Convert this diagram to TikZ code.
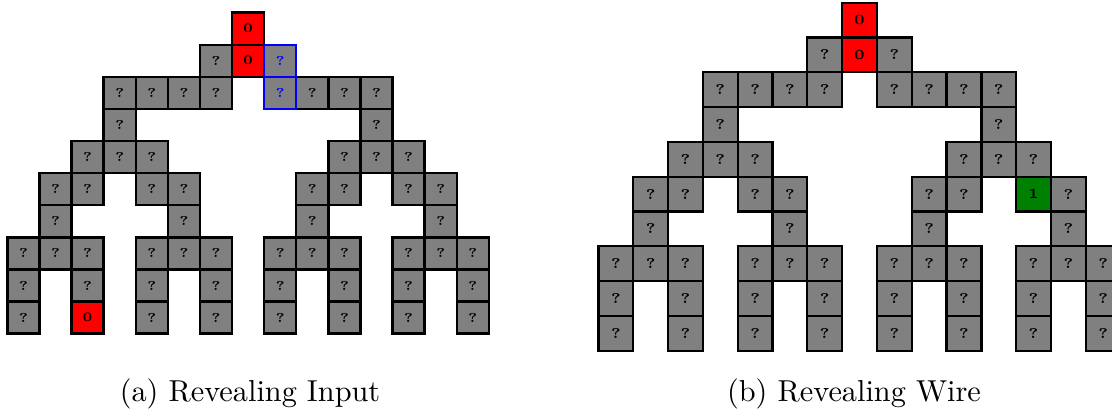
\documentclass[tikz,border=0pt]{standalone}
\usepackage{xcolor}
\definecolor{cCell}{HTML}{808080}
\definecolor{cZero}{HTML}{FF0000}
\definecolor{cOne}{HTML}{008000}
\definecolor{cSel}{HTML}{0000FF}
\usepackage{tikz}
\usetikzlibrary{positioning}
\tikzset{
  cell-box/.style={draw=black,line width=0.8pt,fill=cCell,inner sep=0pt,
    font=\fontsize{4.4}{5}\selectfont\bfseries},
  cell-zero/.style={fill=cZero},
  cell-one/.style={fill=cOne},
  cell-sel/.style={draw=cSel,text=cSel},
  sub-caption/.style={font=\fontsize{10.3}{12}\selectfont,inner sep=0pt,anchor=base},
}
% cells shared by both panels (column/row), special ones are added per panel
\def\treecells{6/1,3/2,4/2,5/2,6/2,9/2,10/2,11/2,3/3,11/3,2/4,3/4,4/4,%
  10/4,11/4,12/4,1/5,2/5,4/5,5/5,9/5,10/5,13/5,1/6,5/6,9/6,13/6,%
  0/7,1/7,2/7,4/7,5/7,6/7,8/7,9/7,10/7,12/7,13/7,14/7,%
  0/8,2/8,4/8,6/8,8/8,10/8,12/8,14/8,0/9,4/9,6/9,8/9,10/9,12/9,14/9}

\begin{document}
\begin{tikzpicture}[x=0.34pt,y=-0.34pt]
  \clip (0,0) rectangle (1112,415);
  % (a) revealing input
  \begin{scope}[shift={(23.4,28.7)},x=10.914pt,y=-10.914pt,
      every node/.append style={minimum size=10.914pt}]
    \foreach \c/\r in \treecells
      \node[cell-box] (a-\c-\r) at (\c,\r) {?};
    \node[cell-box]           (a-12-5) at (12,5) {?};
    \node[cell-box,cell-zero] (a-7-0)  at (7,0)  {0};
    \node[cell-box,cell-zero] (a-7-1)  at (7,1)  {0};
    \node[cell-box,cell-zero] (a-2-9)  at (2,9)  {0};
    \node[cell-box,cell-sel]  (a-8-1)  at (8,1)  {?};
    \node[cell-box,cell-sel]  (a-8-2)  at (8,2)  {?};
  \end{scope}
  % (b) revealing wire
  \begin{scope}[shift={(615.9,20.1)},x=11.832pt,y=-11.832pt,
      every node/.append style={minimum size=11.832pt},
      cell-box/.append style={font=\fontsize{4.8}{5}\selectfont\bfseries}]
    \foreach \c/\r in \treecells
      \node[cell-box] (b-\c-\r) at (\c,\r) {?};
    \node[cell-box]           (b-8-1)  at (8,1)  {?};
    \node[cell-box]           (b-8-2)  at (8,2)  {?};
    \node[cell-box]           (b-2-9)  at (2,9)  {?};
    \node[cell-box,cell-zero] (b-7-0)  at (7,0)  {0};
    \node[cell-box,cell-zero] (b-7-1)  at (7,1)  {0};
    \node[cell-box,cell-one]  (b-12-5) at (12,5) {1};
  \end{scope}
  \node[sub-caption] (cap-a) at (250,401.7) {(a) Revealing Input};
  \node[sub-caption] (cap-b) at (854,401.7) {(b) Revealing Wire};
\end{tikzpicture}
\end{document}
